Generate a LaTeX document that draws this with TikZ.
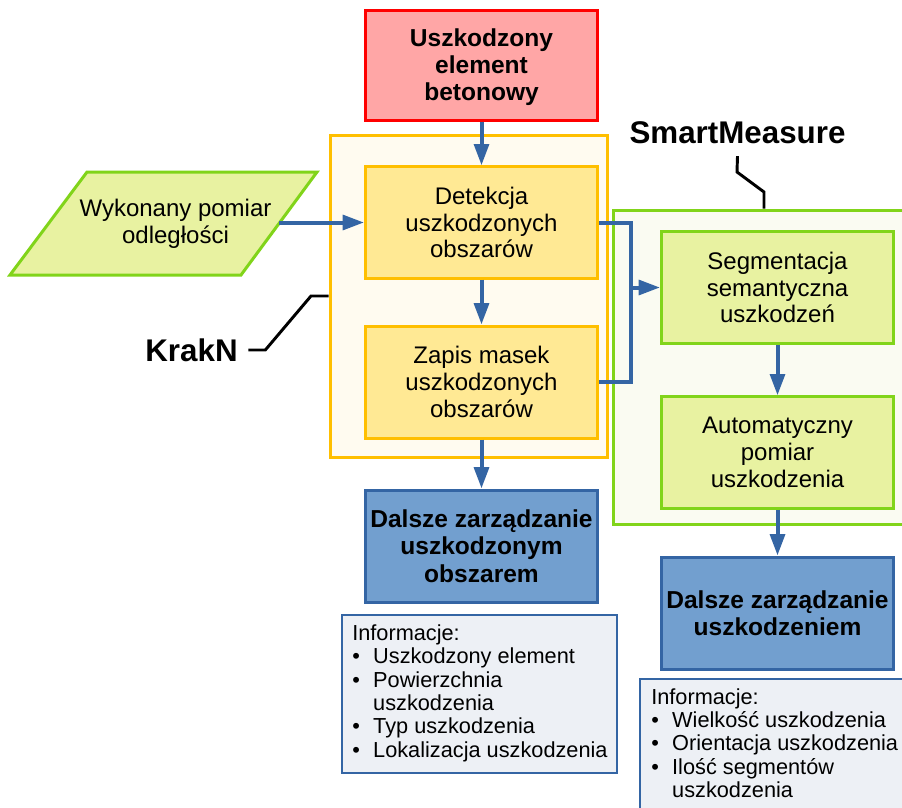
\documentclass[tikz,border=0pt]{standalone}
\usepackage{fontspec}
\setmainfont{Liberation Sans}
\usetikzlibrary{arrows.meta}
\definecolor{redfill}{HTML}{FFA6A6}
\definecolor{redline}{HTML}{FF0000}
\definecolor{goldfill}{HTML}{FFE994}
\definecolor{goldline}{HTML}{FFBF00}
\definecolor{creamfill}{HTML}{FFFBF0}
\definecolor{limefill}{HTML}{E8F2A1}
\definecolor{limeline}{HTML}{81D41A}
\definecolor{palefill}{HTML}{FAFBF2}
\definecolor{bluefill}{HTML}{729FCF}
\definecolor{blueline}{HTML}{3465A4}
\definecolor{infofill}{HTML}{EDF0F5}
\newcommand{\bodyfont}{\fontsize{18}{20}\selectfont}
\newcommand{\headfont}{\fontsize{18.4}{20.6}\selectfont\bfseries}
\newcommand{\infofont}{\fontsize{16.3}{17.5}\selectfont}
\newcommand{\tagfont}{\fontsize{23.5}{26}\selectfont\bfseries}
\begin{document}
\begin{tikzpicture}[x=0.75pt,y=-0.75pt,
  box/.style={rectangle, line width=2.25pt, minimum width=174pt,
    minimum height=83.5pt, align=center, inner sep=0pt, font=\bodyfont},
  headbox/.style={box, font=\headfont},
  stepbox/.style={box, fill=goldfill, draw=goldline},
  limebox/.style={box, fill=limefill, draw=limeline},
  outbox/.style={headbox, fill=bluefill, draw=blueline},
  infobox/.style={rectangle, line width=2pt, fill=infofill, draw=blueline},
  infotext/.style={anchor=north west, inner sep=0pt, font=\infofont},
  group/.style={rectangle, line width=2.25pt},
  tag/.style={font=\tagfont, text=black},
  conn/.style={draw=blueline, line width=3pt, line join=miter},
  arr/.style={conn, -{Triangle[length=16pt,width=11pt]}},
  lead/.style={draw=black, line width=2.2pt, line join=miter}]
\clip (0,0) rectangle (902,807);
\fill[white] (0,0) rectangle (902,807);

% group frames
\node[group, fill=creamfill, draw=goldline, minimum width=207.75pt,
  minimum height=241.5pt] (kcont) at (468.5,296) {};
\node[group, fill=palefill, draw=limeline, minimum width=230.25pt,
  minimum height=235.5pt] (smcont) at (766.5,367) {};

% input element
\node[headbox, fill=redfill, draw=redline, minimum height=82.5pt] (elem)
  at (481.5,65) {\raisebox{-2.25pt}[\height][\depth]{%
    \begin{tabular}{@{}c@{}}Uszkodzony\\element\\betonowy\end{tabular}}};

% distance measurement (parallelogram)
\draw[line width=2.25pt, draw=limeline, fill=limefill]
  (10,275) -- (87,172) -- (317,172) -- (241,275) -- cycle;
\node[align=center, font=\bodyfont, inner sep=0pt] (meas) at (175.5,223.5)
  {Wykonany pomiar\\odległości};
\coordinate (measout) at (279,222.5);

% KrakN steps
\node[stepbox] (det) at (481.5,222.5) {Detekcja\\uszkodzonych\\obszarów};
\node[stepbox, minimum height=84pt] (zap) at (481.5,382)
  {Zapis masek\\uszkodzonych\\obszarów};
\node[outbox, minimum height=84pt] (dal1) at (481.5,546)
  {Dalsze zarządzanie\\uszkodzonym\\obszarem};

% SmartMeasure steps
\node[limebox] (seg) at (777.5,287.5) {Segmentacja\\semantyczna\\uszkodzeń};
\node[limebox] (auto) at (777.5,452.5) {Automatyczny\\pomiar\\uszkodzenia};
\node[outbox, minimum height=84pt] (dal2) at (777.5,613)
  {Dalsze zarządzanie\\uszkodzeniem};

% information panels
\node[infobox, minimum width=206.25pt, minimum height=118.5pt] (info1)
  at (479.5,694) {};
\node[infotext] (info1txt) at (352,624) {%
  \begin{tabular}{@{}l@{\hspace{10pt}}l@{}}
  \multicolumn{2}{@{}l@{}}{Informacje:}\\
  \textbullet & Uszkodzony element\\
  \textbullet & Powierzchnia\\
              & uszkodzenia\\
  \textbullet & Typ uszkodzenia\\
  \textbullet & Lokalizacja uszkodzenia
  \end{tabular}};
\node[infobox, minimum width=217.5pt, minimum height=120.75pt] (info2)
  at (785,759.5) {};
\node[infotext] (info2txt) at (651,687.7) {%
  \begin{tabular}{@{}l@{\hspace{10pt}}l@{}}
  \multicolumn{2}{@{}l@{}}{Informacje:}\\
  \textbullet & Wielkość uszkodzenia\\
  \textbullet & Orientacja uszkodzenia\\
  \textbullet & Ilość segmentów\\
              & uszkodzenia
  \end{tabular}};

% group labels
\node[tag, inner xsep=7.8pt] (krakn) at (191.5,350) {KrakN};
\node[tag, inner ysep=8.8pt] (smart) at (737.5,133) {SmartMeasure};
\draw[lead] (krakn.east) -- ++(17,0) -- (311,296) -- (kcont.west);
\draw[lead] (smart.south) -- (737,172) -- (764,192) -- (764,0 |- smcont.north);

% flow
\draw[arr] (elem) -- (det);
\draw[arr] (measout) -- (measout -| det.west);
\draw[arr] (det) -- (zap);
\draw[arr] (zap) -- (dal1);
\coordinate (join) at (631,287.5);
\draw[conn] (det.east) -| (join) |- (zap.east);
\draw[arr] (join) -- (seg.west);
\draw[arr] (seg) -- (auto);
\draw[arr] (auto) -- (dal2);
\end{tikzpicture}
\end{document}
